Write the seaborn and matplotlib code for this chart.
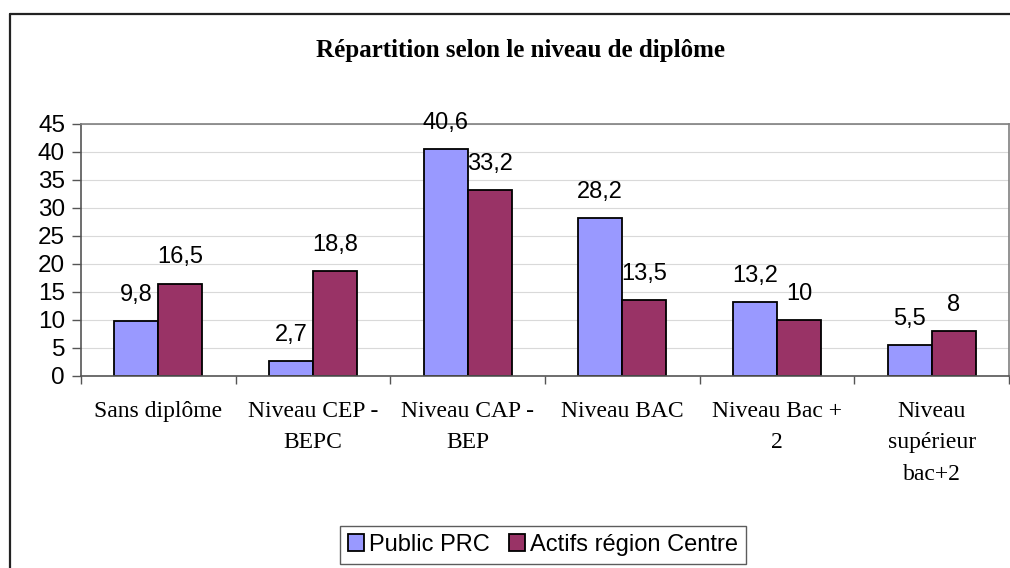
import numpy as np
import pandas as pd
import matplotlib
matplotlib.use("Agg")
import matplotlib.pyplot as plt
from matplotlib.lines import Line2D
from matplotlib.patches import Patch
import seaborn as sns

## data
categories = ["Sans diplôme", "Niveau CEP -\nBEPC", "Niveau CAP -\nBEP",
              "Niveau BAC", "Niveau Bac +\n2", "Niveau\nsupérieur\nbac+2"]
public_prc = [9.8, 2.7, 40.6, 28.2, 13.2, 5.5]
actifs_centre = [16.5, 18.8, 33.2, 13.5, 10, 8]
series_names = ["Public PRC", "Actifs région Centre"]
yticks = [0, 5, 10, 15, 20, 25, 30, 35, 40, 45]

df = pd.DataFrame({
    "cat": categories * 2,
    "val": public_prc + actifs_centre,
    "serie": [series_names[0]] * 6 + [series_names[1]] * 6,
})

sns.set_style("white")
plt.rcParams["font.family"] = ["Liberation Sans", "DejaVu Sans"]
plt.rcParams["text.color"] = "black"
plt.rcParams["xtick.labelcolor"] = "black"
plt.rcParams["ytick.labelcolor"] = "black"

fig = plt.figure(figsize=(10.1, 5.68), dpi=100)
ax = fig.add_axes([81 / 1010, 1 - 376 / 568, 928 / 1010, 252 / 568])

colors = ["#9999FF", "#993366"]
sns.barplot(data=df, x="cat", y="val", hue="serie", palette=colors,
            width=0.57, gap=0, edgecolor="black", linewidth=1.3,
            saturation=1, legend=False, ax=ax)

# data labels above each bar
for cont in ax.containers:
    for bar in cont:
        v = bar.get_height()
        txt = f"{v:g}".replace(".", ",")
        ax.annotate(txt, (bar.get_x() + bar.get_width() / 2, v),
                    xytext=(0, 14.5), textcoords="offset points",
                    ha="center", va="baseline", fontsize=17, color="black")

ax.set_ylim(0, 45)
ax.set_xlim(-0.5, 5.5)
ax.set_yticks(yticks)
ax.set_yticklabels([str(t) for t in yticks], fontsize=17.5)
ax.yaxis.grid(True, color="#D9D9D9", linewidth=0.8)
ax.set_axisbelow(True)
ax.set_xlabel("")
ax.set_ylabel("")

ax.set_xticks(range(len(categories)))
ax.set_xticklabels(categories, fontsize=17, family="Liberation Serif",
                   linespacing=1.65, va="top")
ax.set_xticks(np.arange(-0.5, 6, 1), minor=True)
ax.tick_params(axis="x", which="major", length=0, pad=18)
ax.tick_params(axis="x", which="minor", length=6, width=1, color="#555555",
               direction="out", bottom=True)
ax.tick_params(axis="y", length=6.5, width=1, color="#555555", direction="out",
               left=True, pad=5)

for side in ["top", "right"]:
    ax.spines[side].set_color("#808080")
    ax.spines[side].set_linewidth(1.2)
for side in ["left", "bottom"]:
    ax.spines[side].set_color("#555555")
    ax.spines[side].set_linewidth(1.2)

fig.text(520 / 1010, 1 - 51 / 568, "Répartition selon le niveau de diplôme",
         ha="center", va="center", fontsize=18, fontweight="bold",
         family="Liberation Serif", color="black")

# legend
handles = [Patch(facecolor=c, edgecolor="black", linewidth=1.3) for c in colors]
leg = fig.legend(handles, series_names, loc="center",
                 bbox_to_anchor=(543 / 1010, 1 - 545 / 568),
                 ncol=2, fontsize=17, frameon=True, fancybox=False,
                 handlelength=0.7, handleheight=0.7, handletextpad=0.2,
                 columnspacing=0.8, borderpad=0.35)
leg.get_frame().set_edgecolor("#333333")
leg.get_frame().set_linewidth(1.0)

# outer chart border (left and top visible)
fig.add_artist(Line2D([9.5 / 1010, 9.5 / 1010], [0, 1 - 14 / 568],
                      transform=fig.transFigure, color="#222222", linewidth=1.6))
fig.add_artist(Line2D([9.5 / 1010, 1], [1 - 14 / 568, 1 - 14 / 568],
                      transform=fig.transFigure, color="#222222", linewidth=1.6))

plt.savefig("out.png", dpi=100, facecolor="white")
